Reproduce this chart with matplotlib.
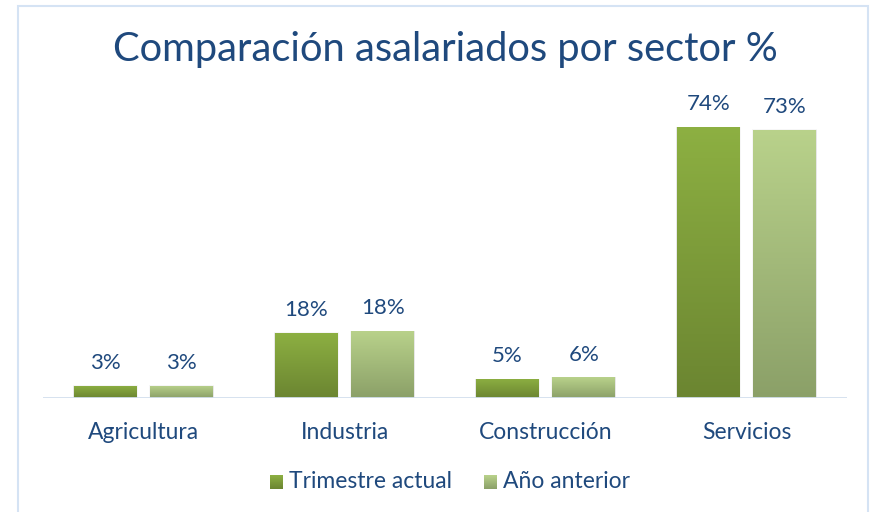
import numpy as np
import matplotlib.pyplot as plt
from matplotlib.colors import LinearSegmentedColormap
from matplotlib.patches import Rectangle

# datos
sectores = ["Agricultura", "Industria", "Construcción", "Servicios"]
trimestre_actual = [3.3, 17.8, 5.2, 74.0]
anio_anterior = [3.3, 18.3, 5.7, 73.2]
series = ["Trimestre actual", "Año anterior"]

azul = "#1F497D"
fuente = "Lato"

# degradados de las barras (arriba -> abajo)
grad_actual = LinearSegmentedColormap.from_list("ga", ["#6B8531", "#8DB042"])
grad_anterior = LinearSegmentedColormap.from_list("gb", ["#8BA068", "#B9D28B"])

W, H = 872, 512
fig = plt.figure(figsize=(W / 100, H / 100), dpi=100)

# marco del grafico
fig.patches.append(Rectangle((17.5 / W, -0.05), (868 - 17.5) / W, 1.05 - 6 / H,
                             transform=fig.transFigure, fill=False,
                             edgecolor="#D5E3F4", linewidth=1.5))

ax = fig.add_axes([43 / W, (512 - 398) / H, 804 / W, 293 / H])
x = np.arange(len(sectores))
ancho = 0.313
desp = 0.19
ymax = 80

def barras_degradado(pos, valores, cmap):
    grad = np.linspace(0, 1, 256).reshape(-1, 1)
    barras = ax.bar(pos, valores, ancho, color="none", edgecolor="none")
    for b in barras:
        x0, w, h = b.get_x(), b.get_width(), b.get_height()
        # sombra suave
        for k, a in [(0.006, 0.06), (0.012, 0.035)]:
            ax.add_patch(Rectangle((x0 - k / 2, -0.3), w + k, h + 0.3 + k * 10,
                                   color="#000000", alpha=a, zorder=1, linewidth=0))
        im = ax.imshow(grad, extent=[x0, x0 + w, 0, h], origin="lower",
                       cmap=cmap, aspect="auto", zorder=2)
        im.set_clip_path(b)
    return barras

b1 = barras_degradado(x - desp, trimestre_actual, grad_actual)
b2 = barras_degradado(x + desp, anio_anterior, grad_anterior)

for barras, valores in [(b1, trimestre_actual), (b2, anio_anterior)]:
    for b, v in zip(barras, valores):
        ax.annotate(f"{round(v)}%", (b.get_x() + b.get_width() / 2, v),
                    xytext=(0, 9), textcoords="offset points",
                    ha="center", va="bottom", fontsize=16, color=azul,
                    family=fuente)

ax.set_xlim(-0.5, len(sectores) - 0.5)
ax.set_ylim(0, ymax)
ax.axhline(0, color="#D3DFEE", linewidth=2, zorder=3)
for s in ax.spines.values():
    s.set_visible(False)
ax.set_yticks([])
ax.set_xticks(x)
ax.set_xticklabels(sectores, fontsize=16.5, color=azul, family=fuente)
ax.tick_params(axis="x", length=0, pad=17)

fig.text(445 / W, 1 - 50 / H, "Comparación asalariados por sector %",
         ha="center", va="center", fontsize=28.7, color=azul, family=fuente)

# leyenda
for xm, cm, texto in [(270, grad_actual, series[0]), (484, grad_anterior, series[1])]:
    cax = fig.add_axes([xm / W, (512 - 489) / H, 13 / W, 14 / H])
    cax.imshow(np.linspace(0, 1, 64).reshape(-1, 1), origin="lower", cmap=cm,
               aspect="auto")
    cax.axis("off")
    fig.text((xm + 19) / W, 1 - 482 / H, texto, ha="left", va="center",
             fontsize=16.5, color=azul, family=fuente)

fig.savefig("out.png", dpi=100)
